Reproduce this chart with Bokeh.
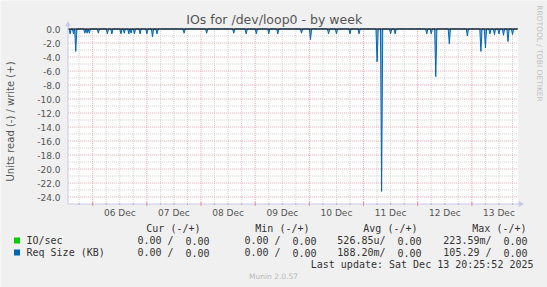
import math
from bokeh.plotting import figure
from bokeh.models import Range1d
from bokeh.core.properties import value
from bokeh.embed import file_html
from bokeh.resources import INLINE

# ---------------- data ----------------
# time in hours relative to 06 Dec 00:00
T_START = -10.94
T_END = 188.43           # Sat Dec 13 20:25:52
STEP = 0.5               # 30 min resolution
Y_MIN, Y_MAX = -25.0, 0.0

# Req Size (KB) read (plotted negative) spikes: hour, value
spike_hours = [-10.0, -8.5, -7.5, -3.5, -2.5, -1.5, 2.5, 6.5, 8.5, 12.5, 14.0,
               16.0, 17.0, 18.5, 21.0, 24.0, 26.5, 28.5, 40.5, 50.5, 62.5, 68.0,
               72.5, 78.0, 82.0, 92.5, 96.5, 104.5, 108.0, 114.0, 118.0, 126.0,
               128.0, 132.0, 134.0, 148.0, 150.0, 152.0, 158.0, 166.0, 172.0,
               174.0, 176.0, 178.0, 180.0, 182.0, 184.0, 186.0]
spike_values = [-0.7, -0.7, -3.2, -0.6, -0.6, -0.6, -0.6, -0.7, -0.7, -0.7, -0.6,
                -0.7, -0.6, -0.7, -0.7, -0.7, -1.15, -0.7, -0.6, -0.6, -0.6, -0.7,
                -0.7, -0.7, -0.7, -0.6, -1.5, -0.7, -0.7, -0.7, -0.7, -4.7,
                -23.2, -0.7, -0.7, -0.7, -0.7, -6.8, -2.1, -1.0, -3.2,
                -2.7, -0.7, -0.8, -0.7, -0.9, -1.8, -0.8]

day_label_hours = [12, 36, 60, 84, 108, 132, 156, 180]
day_labels = ["06 Dec", "07 Dec", "08 Dec", "09 Dec", "10 Dec", "11 Dec", "12 Dec", "13 Dec"]
midnight_hours = [0, 24, 48, 72, 96, 120, 144, 168]
six_hours = [h for h in range(-6, 190, 6) if h % 24 != 0]
y_ticks = [0, -2, -4, -6, -8, -10, -12, -14, -16, -18, -20, -22, -24]
y_tick_labels = [f"{v:.1f}" for v in y_ticks]
y_minor = [-1, -3, -5, -7, -9, -11, -13, -15, -17, -19, -21, -23]

title = "IOs for /dev/loop0 - by week"
y_label = "Units read (-) / write (+)"
side_text = "RRDTOOL / TOBI OETIKER"
legend_names = ["IO/sec", "Req Size (KB)"]
legend_colors = ["#00CC00", "#0066B3"]
legend_headers = ["Cur (-/+)", "Min (-/+)", "Avg (-/+)", "Max (-/+)"]
# each cell: (read, write)
legend_rows = [[("0.00 /", "0.00"), ("0.00 /", "0.00"), ("526.85u/", "0.00"), ("223.59m/", "0.00")],
               [("0.00 /", "0.00"), ("0.00 /", "0.00"), ("188.20m/", "0.00"), ("105.29 /", "0.00")]]
last_update = "Last update: Sat Dec 13 20:25:52 2025"
munin_version = "Munin 2.0.57"

# the 30-min series (zero where no activity was drawn)
t0 = math.ceil(T_START / STEP) * STEP
times = []
t = t0
while t <= T_END:
    times.append(t)
    t += STEP
vals = [0.0] * len(times)
for h, v in zip(spike_hours, spike_values):
    idx = int(round((h - t0) / STEP))
    if 0 <= idx < len(vals):
        vals[idx] = v

# ---------------- layout (pixel placement of the plot area) ----------------
W, H = 547, 287
PX_L, PX_R = 67.5, 517.5          # plot area left / right
PX_Y0, PX_YMIN = 28.5, 203.5      # pixel rows of y=0 and y=-25


def dx(px):
    return T_START + (px - PX_L) / (PX_R - PX_L) * (T_END - T_START)


def dy(py):
    return Y_MAX - (py - PX_Y0) / (PX_YMIN - PX_Y0) * (Y_MAX - Y_MIN)


GREY = "#555555"
TXT = "#333333"
BG = "#F0F0F0"
SANS = value("DejaVu Sans")
MONO = value("DejaVu Sans Mono")

p = figure(width=W, height=H, output_backend="svg", toolbar_location=None,
           x_range=Range1d(dx(0), dx(W)), y_range=Range1d(dy(H), dy(0)),
           x_axis_type=None, y_axis_type=None,
           min_border_left=0, min_border_right=0, min_border_top=0, min_border_bottom=0)
p.background_fill_color = BG
p.border_fill_color = BG
p.outline_line_color = None
p.grid.visible = False

# plot area
p.quad(left=[T_START], right=[T_END], bottom=[Y_MIN], top=[Y_MAX],
       fill_color="white", line_color=None)

# grid: minor grey, major red (dotted)
p.segment(x0=six_hours, y0=[Y_MIN] * len(six_hours), x1=six_hours, y1=[Y_MAX] * len(six_hours),
          line_color="#D2D2D2", line_dash="1 1", line_width=1)
p.segment(x0=[T_START] * len(y_minor), y0=y_minor, x1=[T_END] * len(y_minor), y1=y_minor,
          line_color="#D2D2D2", line_dash="1 1", line_width=1)
p.segment(x0=midnight_hours, y0=[Y_MIN] * len(midnight_hours), x1=midnight_hours,
          y1=[Y_MAX] * len(midnight_hours), line_color="#EDA8AE", line_dash="1 1", line_width=1)
p.segment(x0=[T_START] * len(y_ticks), y0=y_ticks, x1=[T_END] * len(y_ticks), y1=y_ticks,
          line_color="#EDA8AE", line_dash="1 1", line_width=1)

# data
p.varea(x=times, y1=[0.0] * len(times), y2=vals, fill_color="#6AA8DC", fill_alpha=0.9)
p.line(x=times, y=vals, line_color="#0066B3", line_width=1)
p.segment(x0=[T_START], y0=[0.0], x1=[T_END], y1=[0.0], line_color="black", line_width=1)

# axes lines, ticks and arrows
AX = "#C8C8EC"
p.segment(x0=[T_START], y0=[Y_MIN], x1=[T_START], y1=[dy(25)], line_color=AX, line_width=1)
p.segment(x0=[T_START], y0=[Y_MIN], x1=[dx(519)], y1=[Y_MIN], line_color=AX, line_width=1)
p.scatter(x=[T_START], y=[dy(24)], marker="triangle", size=6, fill_color=AX, line_color=None)
p.scatter(x=[dx(520)], y=[Y_MIN], marker="triangle", angle=-math.pi / 2, size=6,
          fill_color=AX, line_color=None)
p.segment(x0=six_hours, y0=[dy(PX_YMIN - 1)] * len(six_hours), x1=six_hours,
          y1=[dy(PX_YMIN + 1)] * len(six_hours), line_color="#B8B8B8", line_width=1)
p.segment(x0=midnight_hours, y0=[dy(PX_YMIN - 2)] * len(midnight_hours), x1=midnight_hours,
          y1=[dy(PX_YMIN + 2)] * len(midnight_hours), line_color="#E89090", line_width=1)

# tick labels
p.text(x=[dx(60)] * len(y_ticks), y=y_ticks, text=y_tick_labels, text_font=SANS,
       text_font_size="9px", text_color=GREY, text_align="right", text_baseline="middle")
p.text(x=day_label_hours, y=[dy(212.5)] * len(day_label_hours), text=day_labels,
       text_font=SANS, text_font_size="9px", text_color=GREY, text_align="center",
       text_baseline="middle")

# title, axis label, side text
p.text(x=[dx(273.7)], y=[dy(19)], text=[title], text_font=SANS, text_font_size="12.5px",
       text_color=GREY, text_align="center", text_baseline="middle")
p.text(x=[dx(10)], y=[dy(121)], text=[y_label], text_font=SANS, text_font_size="10px",
       text_color=GREY, text_align="center", text_baseline="middle", angle=math.pi / 2)
p.text(x=[dx(538.5)], y=[dy(53)], text=[side_text], text_font=SANS, text_font_size="7.5px",
       text_color="#C0C0C0", text_align="center", text_baseline="middle", angle=-math.pi / 2)

# legend
CW = 6.0   # mono char width at 10px
header_right = [200, 309, 417, 526]
value_right = [209, 316, 421, 527]
row_py = [240, 252]
p.text(x=[dx(v) for v in header_right], y=[dy(227.5)] * 4, text=legend_headers,
       text_font=MONO, text_font_size="10px", text_color=TXT, text_align="right",
       text_baseline="middle")
p.rect(x=[dx(16.5)] * 2, y=[dy(v) for v in row_py], width=6, height=6, width_units="screen",
       height_units="screen", fill_color=legend_colors, line_color=None)
p.text(x=[dx(26)] * 2, y=[dy(v) for v in row_py], text=legend_names, text_font=MONO,
       text_font_size="10px", text_color=TXT, text_align="left", text_baseline="middle")
for row, ry in zip(legend_rows, row_py):
    p.text(x=[dx(v - 6 * CW) for v in value_right], y=[dy(ry)] * 4, text=[c[0] for c in row],
           text_font=MONO, text_font_size="10px", text_color=TXT, text_align="right",
           text_baseline="middle")
    p.text(x=[dx(v) for v in value_right], y=[dy(ry)] * 4, text=[c[1] for c in row],
           text_font=MONO, text_font_size="10px", text_color=TXT, text_align="right",
           text_baseline="middle")
p.text(x=[dx(533)], y=[dy(263.5)], text=[last_update], text_font=MONO,
       text_font_size="10px", text_color=TXT, text_align="right", text_baseline="middle")
p.text(x=[dx(273)], y=[dy(276)], text=[munin_version], text_font=SANS,
       text_font_size="7.5px", text_color="#B8B8B8", text_align="center",
       text_baseline="middle")

open("out.html", "w").write(file_html(p, INLINE))
